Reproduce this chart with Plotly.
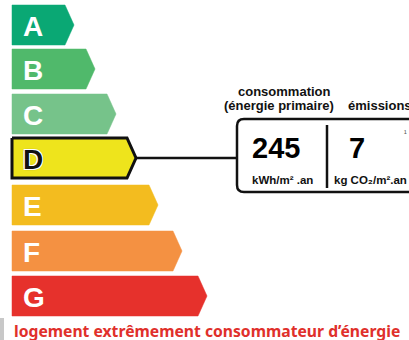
import plotly.graph_objects as go

# ---- data ----
categories = ["A", "B", "C", "D", "E", "F", "G"]
bar_ends = [65, 86, 107, 127, 149, 173, 198]
rating = "D"
consumption = 245
emissions = 7
consumption_unit = "kWh/m² .an"
emissions_unit = "kg CO₂/m².an"
bottom_label = "logement extrêmement consommateur d’énergie"
top_label = "logement très performant"

# ---- styles ----
colors = ["#0aa874", "#50b96b", "#76c38a", "#eee41c", "#f3bc1f", "#f49142", "#e6312c"]
W, H = 409, 340
tops = [5, 49, 94, 138, 185, 231, 276]
bar_h = 40
tip = 9
x0 = 12

fig = go.Figure()

for i, cat in enumerate(categories):
    t = tops[i]
    b = t + bar_h
    m = (t + b) / 2
    L = bar_ends[i]
    xs = [x0, L, L + tip, L, x0, x0]
    ys = [t, t, m, b, b, t]
    sel = cat == rating
    fig.add_trace(go.Scatter(
        x=xs, y=ys, mode="lines", fill="toself",
        fillcolor=colors[i],
        line=dict(color="#111" if sel else colors[i], width=3 if sel else 0.5),
        hoverinfo="skip", showlegend=False))
    fig.add_annotation(
        x=x0 + 9, y=m + 1, xanchor="left", yanchor="middle", showarrow=False,
        text="<b>%s</b>" % cat,
        font=dict(family="Liberation Sans, Arial", size=28,
                  color="#111" if sel else "white",
                  shadow=("-1px -1px 0 #fff, 1px -1px 0 #fff, -1px 1px 0 #fff, 1px 1px 0 #fff, 0 0 2px #333" if sel else "none")))

# connector line from selected class to the box
ri = categories.index(rating)
ym = tops[ri] + bar_h / 2
fig.add_shape(type="line", x0=bar_ends[ri] + tip, x1=237, y0=ym, y1=ym,
              line=dict(color="#111", width=2.5))

# rounded box (right side goes off page)
bx0, by0, bx1, by1, r = 237, 119, 430, 192, 7
path = (f"M {bx0+r},{by0} L {bx1},{by0} L {bx1},{by1} L {bx0+r},{by1} "
        f"Q {bx0},{by1} {bx0},{by1-r} L {bx0},{by0+r} Q {bx0},{by0} {bx0+r},{by0} Z")
fig.add_shape(type="path", path=path, line=dict(color="#111", width=2.5), fillcolor="white")
fig.add_shape(type="line", x0=327, x1=327, y0=125, y1=188, line=dict(color="#111", width=2.5))

lab = "Liberation Sans, Arial"
fig.add_annotation(x=276, y=148, text=f"<b>{consumption}</b>", showarrow=False,
                   font=dict(family=lab, size=29, color="#000"))
fig.add_annotation(x=357, y=148, text=f"<b>{emissions}</b>", showarrow=False,
                   font=dict(family=lab, size=29, color="#000"))
fig.add_annotation(x=282, y=180, text=f"<b>{consumption_unit}</b>", showarrow=False,
                   font=dict(family=lab, size=11.5, color="#111"))
fig.add_annotation(x=332, y=180, xanchor="left", text=f"<b>{emissions_unit}</b>", showarrow=False,
                   font=dict(family=lab, size=11.5, color="#111"))
fig.add_annotation(x=405, y=133, text="¹", showarrow=False,
                   font=dict(family=lab, size=8, color="#333"))
fig.add_annotation(x=284, y=91.5, text="<b>consommation</b>", showarrow=False,
                   font=dict(family=lab, size=13, color="#111"))
fig.add_annotation(x=279, y=105, text="<b>(énergie primaire)</b>", showarrow=False,
                   font=dict(family=lab, size=13, color="#111"))
fig.add_annotation(x=346, y=105, xanchor="left", text="<b>émissions</b>", showarrow=False,
                   font=dict(family=lab, size=13, color="#111"))

# bottom and top labels
fig.add_annotation(x=12, y=331, xanchor="left", text=f"<b>{bottom_label}</b>", showarrow=False,
                   font=dict(family="Noto Sans, Open Sans", size=15.7, color="#e0302b"))
fig.add_annotation(x=12, y=-4.5, xanchor="left", text=f"<b>{top_label}</b>", showarrow=False,
                   font=dict(family="Noto Sans, Open Sans", size=15, color="#0aa874"))

# small gray mark at bottom-left
fig.add_shape(type="rect", x0=0, x1=4, y0=318, y1=340, fillcolor="#c8c8c8", line=dict(width=0))

fig.update_xaxes(range=[0, W], visible=False, fixedrange=True)
fig.update_yaxes(range=[H, 0], visible=False, fixedrange=True)
fig.update_layout(width=W, height=H, margin=dict(l=0, r=0, t=0, b=0),
                  paper_bgcolor="white", plot_bgcolor="white")
fig.write_html("out.html", config={"displayModeBar": False},
               post_script="document.body.style.margin='0px';document.body.style.overflow='hidden';")
